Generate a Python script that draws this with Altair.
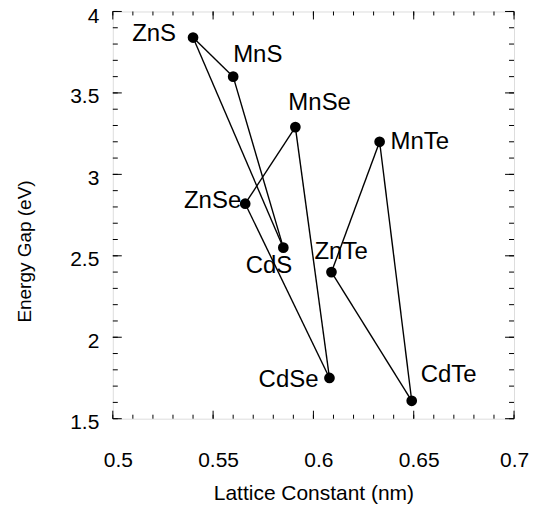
import altair as alt
import pandas as pd

# ---- data ----
names = ["ZnS", "MnS", "CdS", "ZnSe", "MnSe", "CdSe", "ZnTe", "MnTe", "CdTe"]
lattice_nm = [0.540, 0.560, 0.585, 0.566, 0.591, 0.608, 0.609, 0.633, 0.649]
gap_ev = [3.84, 3.60, 2.55, 2.82, 3.29, 1.75, 2.40, 3.20, 1.61]

edges = [
    ("ZnS", "MnS"), ("MnS", "CdS"), ("CdS", "ZnS"),
    ("ZnSe", "MnSe"), ("MnSe", "CdSe"), ("CdSe", "ZnSe"),
    ("ZnTe", "MnTe"), ("MnTe", "CdTe"), ("CdTe", "ZnTe"),
]

x_major = [0.5, 0.55, 0.6, 0.65, 0.7]
y_major = [1.5, 2.0, 2.5, 3.0, 3.5, 4.0]
x_minor = [round(0.5 + 0.01 * i, 2) for i in range(21)]
y_minor = [round(1.5 + 0.1 * i, 1) for i in range(26)]

# label placement (style): align, dx, dy
label_style = {
    "ZnS": ("right", -17, -4),
    "MnS": ("left", 0, -22),
    "MnSe": ("left", -7, -24),
    "ZnSe": ("right", -4, -3),
    "CdS": ("right", 9, 18),
    "ZnTe": ("left", -17, -20),
    "CdSe": ("right", -11, 2),
    "CdTe": ("left", 9, -26),
    "MnTe": ("left", 11, 0),
}

W, H = 402, 408
FONT = "Liberation Sans"

pts = pd.DataFrame({"name": names, "a": lattice_nm, "eg": gap_ev})
lookup = dict(zip(names, zip(lattice_nm, gap_ev)))
edf = pd.DataFrame({
    "a1": [lookup[s][0] for s, t in edges],
    "e1": [lookup[s][1] for s, t in edges],
    "a2": [lookup[t][0] for s, t in edges],
    "e2": [lookup[t][1] for s, t in edges],
})

xs = alt.Scale(domain=[0.5, 0.7], nice=False, zero=False)
ys = alt.Scale(domain=[1.5, 4.0], nice=False, zero=False)

x_axis = alt.Axis(
    values=x_major, format="~g", ticks=False, domain=False, grid=False,
    labelFontSize=21, labelPadding=31,
    labelOffset={"condition": {"test": "datum.value >= 0.7", "value": 0}, "value": 5},
    labelFlush=False, labelOverlap=False, labelColor="black",
    title="Lattice Constant (nm)", titleFontSize=21, titleFontWeight="normal",
    titlePadding=12, titleColor="black",
)
y_axis = alt.Axis(
    values=y_major, format="~g", ticks=False, domain=False, grid=False,
    labelFontSize=21, labelPadding=14,
    labelOffset={"condition": {"test": "datum.value >= 4", "value": 5}, "value": 4},
    labelFlush=False, labelOverlap=False, labelColor="black",
    title="Energy Gap (eV)", titleFontSize=19, titleFontWeight="normal",
    titleAngle=270, titleX=-88, titleY=240, titleAlign="center",
    titleBaseline="middle", titleColor="black",
)

lines = alt.Chart(edf).mark_rule(color="black", strokeWidth=1.4).encode(
    x=alt.X("a1:Q", scale=xs, axis=None), y=alt.Y("e1:Q", scale=ys, axis=None),
    x2="a2:Q", y2="e2:Q",
)

dots = alt.Chart(pts).mark_circle(color="black", opacity=1, size=115).encode(
    x=alt.X("a:Q", scale=xs, axis=x_axis),
    y=alt.Y("eg:Q", scale=ys, axis=y_axis),
)

labels = []
for n in names:
    al, dx, dy = label_style[n]
    labels.append(
        alt.Chart(pts).transform_filter(alt.datum.name == n).mark_text(
            align=al, baseline="middle", dx=dx, dy=dy, fontSize=24,
            font=FONT, color="black",
        ).encode(
            x=alt.X("a:Q", scale=xs, axis=None),
            y=alt.Y("eg:Q", scale=ys, axis=None),
            text="name:N",
        )
    )

def xticks(vals, length):
    d = pd.DataFrame({"v": vals})
    bot = alt.Chart(d).mark_rule(color="black", strokeWidth=1).encode(
        x=alt.X("v:Q", scale=xs, axis=None), y=alt.value(H), y2=alt.value(H - length))
    top = alt.Chart(d).mark_rule(color="black", strokeWidth=1).encode(
        x=alt.X("v:Q", scale=xs, axis=None), y=alt.value(0), y2=alt.value(length))
    return [bot, top]

def yticks(vals, length):
    d = pd.DataFrame({"v": vals})
    left = alt.Chart(d).mark_rule(color="black", strokeWidth=1).encode(
        y=alt.Y("v:Q", scale=ys, axis=None), x=alt.value(0), x2=alt.value(length))
    right = alt.Chart(d).mark_rule(color="black", strokeWidth=1).encode(
        y=alt.Y("v:Q", scale=ys, axis=None), x=alt.value(W), x2=alt.value(W - length))
    return [left, right]

tick_layers = xticks(x_minor, 4) + xticks(x_major, 8) + yticks(y_minor, 5) + yticks(y_major, 9)

chart = alt.layer(dots, lines, *tick_layers, *labels).resolve_axis(
    x="independent", y="independent"
).properties(
    width=W, height=H,
    autosize=alt.AutoSizeParams(type="none"),
    padding={"left": 105, "top": 3, "right": 16, "bottom": 89},
).configure_view(
    stroke="black", strokeWidth=1.2
).configure_axis(
    labelFont=FONT, titleFont=FONT
).configure(background="white")

chart.save("out.html", embed_options={"renderer": "svg", "actions": False})
